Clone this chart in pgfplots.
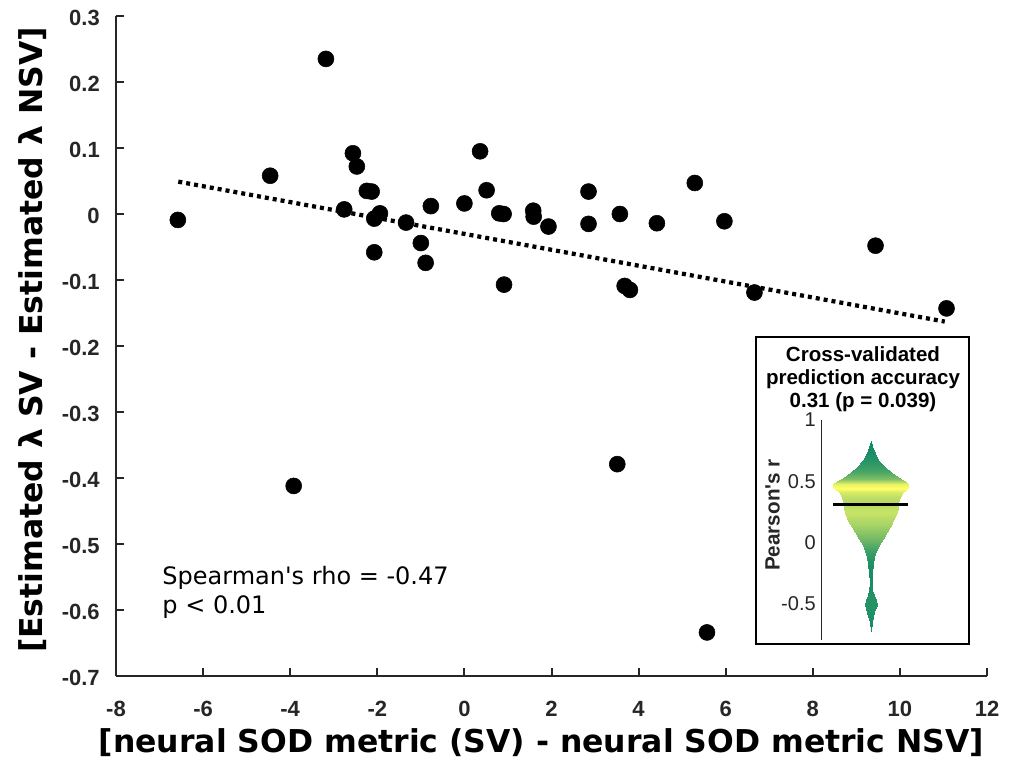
\documentclass[border=0pt]{standalone}
\usepackage{pgfplots}
\pgfplotsset{compat=1.18}
\usepackage{fontspec}
\setmainfont{Liberation Sans}[Ligatures=TeXOff]
\newfontfamily\dejavu{DejaVu Sans}[Ligatures=TeXOff]
\definecolor{axgray}{HTML}{262626}

\begin{document}
\begin{tikzpicture}[x=0.75pt,y=0.75pt]
\path[use as bounding box] (0,0) rectangle (1016,765);
\begin{axis}[
  at={(87pt,66.75pt)}, anchor=south west, scale only axis,
  width=653.25pt, height=495pt,
  xmin=-8, xmax=12, ymin=-0.7, ymax=0.3,
  axis lines=left, axis line style={-, axgray, line width=1.5pt},
  tick align=inside, major tick length=6pt, tick style={axgray, line width=1.5pt},
  xtick={-8,-6,-4,-2,0,2,4,6,8,10,12},
  xticklabels={-8,-6,-4,-2,0,2,4,6,8,10,12},
  ytick={-0.7,-0.6,-0.5,-0.4,-0.3,-0.2,-0.1,0,0.1,0.2,0.3},
  yticklabels={-0.7,-0.6,-0.5,-0.4,-0.3,-0.2,-0.1,0,0.1,0.2,0.3},
  ticklabel style={font=\fontsize{16.5}{19}\selectfont\bfseries, text=axgray, inner sep=0pt},
  xticklabel style={anchor=north, yshift=-19pt},
  yticklabel style={anchor=east, xshift=-12pt, yshift=-1.5pt},
  xlabel={[neural SOD metric (SV) - neural SOD metric NSV]},
  ylabel={[Estimated λ SV - Estimated λ NSV]},
  label style={font=\dejavu\bfseries\fontsize{23.6}{28}\selectfont, inner sep=0pt},
  xlabel style={at={(axis description cs:0.4885,-0.1152)}, anchor=base},
  ylabel style={at={(axis description cs:-0.0953,0.509)}, anchor=center},
  clip=false,
]
\addplot[black, line width=3.2pt, dash pattern=on 3pt off 3pt] coordinates {(-6.57,0.049) (11.03,-0.163)};
\addplot[only marks, mark=*, mark size=6pt, black] table {
x y
-6.58 -0.009
-4.46 0.058
-3.18 0.235
-2.56 0.092
-2.47 0.072
-2.76 0.007
-2.24 0.035
-2.13 0.034
-2.07 -0.007
-1.94 0.001
-2.07 -0.058
-1.34 -0.013
-1.00 -0.044
-0.89 -0.074
-0.77 0.012
0.00 0.016
0.36 0.095
0.51 0.036
0.80 0.001
0.90 0.000
0.91 -0.107
1.58 0.005
1.59 -0.004
1.93 -0.019
2.85 0.034
2.85 -0.015
3.57 0.000
3.51 -0.379
3.68 -0.109
3.80 -0.115
4.42 -0.014
5.29 0.047
5.97 -0.011
6.66 -0.119
5.57 -0.634
-3.92 -0.412
9.44 -0.048
11.07 -0.143
};
\node[anchor=base west, inner sep=0pt, font=\dejavu\fontsize{18}{21}\selectfont] at (axis cs:-6.94,-0.562) {Spearman's rho = -0.47};
\node[anchor=base west, inner sep=0pt, font=\dejavu\fontsize{18}{21}\selectfont] at (axis cs:-6.94,-0.606) {p < 0.01};
\end{axis}

\draw[line width=2pt, black] (756,428) rectangle (969,121);
\node[anchor=base, inner sep=0pt, font=\bfseries\fontsize{15.4}{18}\selectfont] at (863,403.5) {Cross-validated};
\node[anchor=base, inner sep=0pt, font=\bfseries\fontsize{15.4}{18}\selectfont] at (863,380.5) {prediction accuracy};
\node[anchor=base, inner sep=0pt, font=\bfseries\fontsize{15.4}{18}\selectfont] at (863,357.7) {0.31 (p = 0.039)};

\begin{axis}[
  at={(616.275pt,93.75pt)}, anchor=south west, scale only axis,
  width=73.5pt, height=165pt,
  xmin=-49, xmax=49, ymin=-0.8, ymax=1,
  axis x line=none, axis y line=left, y axis line style={-, axgray, line width=1.1pt},
  ytick={-0.5,0,0.5,1}, yticklabels={-0.5,0,0.5,1},
  major tick length=0pt,
  yticklabel style={font=\fontsize{15}{17}\selectfont, text=axgray, anchor=east, inner sep=0pt, xshift=-4.3pt},
  ylabel={Pearson's r},
  ylabel style={font=\bfseries\fontsize{15.5}{18}\selectfont, text=axgray, at={(axis description cs:-0.502,0.568)}, anchor=center, inner sep=0pt},
  colormap={summer}{rgb255=(0,128,102) rgb255=(255,255,102)},
  point meta min=0, point meta max=1,
  clip=false,
]
\addplot[surf, shader=interp, mesh/cols=2, point meta=explicit] table[x=x, y=y, meta=c] {
x y c
-0 0.83 0.05
0 0.83 0.05
-1.5 0.78 0.08
1.5 0.78 0.08
-4 0.73 0.10
4 0.73 0.10
-7.5 0.67 0.15
7.5 0.67 0.15
-14 0.617 0.22
14 0.617 0.22
-20 0.575 0.30
20 0.575 0.30
-24 0.55 0.38
24 0.55 0.38
-30 0.52 0.50
30 0.52 0.50
-34 0.50 0.65
34 0.50 0.65
-37.5 0.48 0.90
37.5 0.48 0.90
-37.5 0.445 1.00
37.5 0.445 1.00
-35 0.425 0.95
35 0.425 0.95
-32 0.41 0.85
32 0.41 0.85
-29 0.37 0.75
29 0.37 0.75
-27.5 0.32 0.70
27.5 0.32 0.70
-27 0.28 0.75
27 0.28 0.75
-26 0.24 0.78
26 0.24 0.78
-23.5 0.20 0.72
23.5 0.20 0.72
-21.5 0.16 0.68
21.5 0.16 0.68
-19 0.125 0.62
19 0.125 0.62
-16 0.08 0.55
16 0.08 0.55
-12 0.03 0.45
12 0.03 0.45
-8 -0.02 0.35
8 -0.02 0.35
-5.5 -0.07 0.25
5.5 -0.07 0.25
-3.5 -0.12 0.18
3.5 -0.12 0.18
-2.3 -0.18 0.12
2.3 -0.18 0.12
-1.5 -0.25 0.10
1.5 -0.25 0.10
-1 -0.33 0.10
1 -0.33 0.10
-1.5 -0.39 0.12
1.5 -0.39 0.12
-3 -0.43 0.14
3 -0.43 0.14
-5 -0.47 0.15
5 -0.47 0.15
-6 -0.51 0.15
6 -0.51 0.15
-4.5 -0.55 0.14
4.5 -0.55 0.14
-2.5 -0.60 0.12
2.5 -0.60 0.12
-1 -0.65 0.10
1 -0.65 0.10
-0 -0.73 0.08
0 -0.73 0.08
};
\addplot[black, line width=1.75pt] coordinates {(-37.5,0.31) (37.5,0.31)};
\end{axis}
\end{tikzpicture}
\end{document}
